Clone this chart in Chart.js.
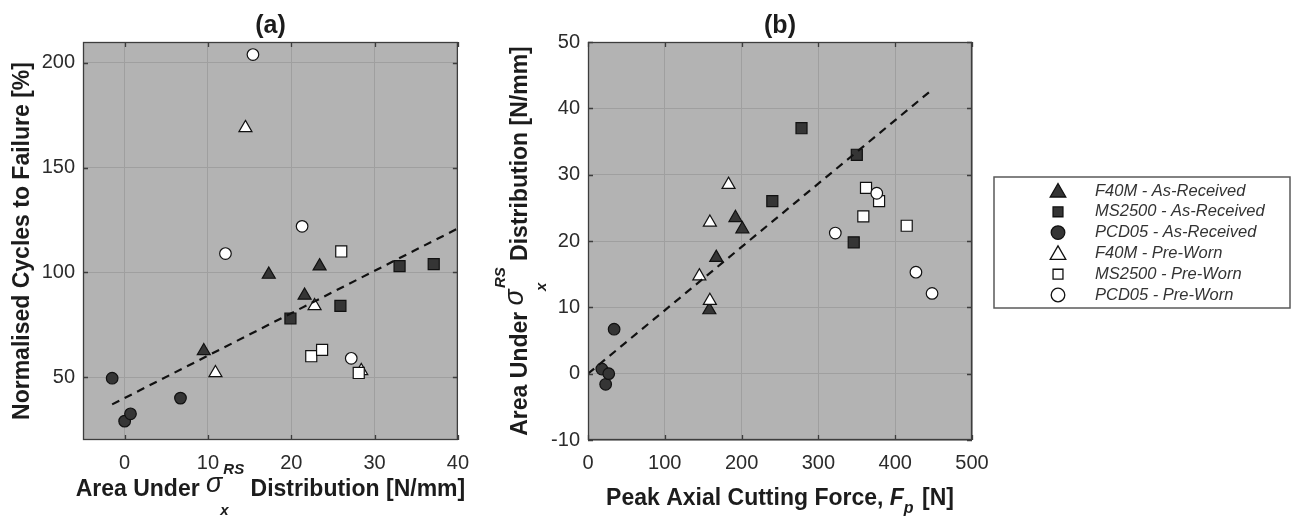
<!DOCTYPE html>
<html>
<head>
<meta charset="utf-8">
<script src="https://cdn.jsdelivr.net/npm/chart.js@4.4.0/dist/chart.umd.min.js"></script>
<style>
  html, body { margin: 0; padding: 0; background: #fff; }
  #wrap { position: relative; width: 1292px; height: 516px; overflow: hidden; background: #fff; }
  #chartA { position: absolute; left: 0; top: 0; }
  #chartB { position: absolute; left: 480px; top: 0; }
</style>
</head>
<body>
<div id="wrap">
  <canvas id="chartA" width="480" height="516"></canvas>
  <canvas id="chartB" width="812" height="516"></canvas>
</div>
<script>
// series labels (legend order)
const seriesLabels = [
  'F40M - As-Received',
  'MS2500 - As-Received',
  'PCD05 - As-Received',
  'F40M - Pre-Worn',
  'MS2500 - Pre-Worn',
  'PCD05 - Pre-Worn'
];

// (a) area under sigma_x^RS [N/mm] vs normalised cycles to failure [%]
const aF40mAR   = [[9.5, 62.5], [17.3, 99], [21.6, 89], [23.4, 103]];
const aMs2500AR = [[19.9, 78], [25.9, 84], [33.0, 103], [37.1, 104]];
const aPcd05AR  = [[-1.5, 49.5], [0, 29], [0.7, 32.5], [6.7, 40]];
const aF40mPW   = [[10.9, 52], [14.5, 169], [22.8, 84], [28.4, 53]];
const aMs2500PW = [[22.4, 60], [23.7, 63], [26.0, 110], [28.1, 52]];
const aPcd05PW  = [[12.1, 109], [15.4, 204], [21.3, 122], [27.2, 59]];
const aTrend    = [[-1.5, 37], [40, 121]];
const aXTicks = [0, 10, 20, 30, 40];
const aYTicks = [50, 100, 150, 200];

// (b) peak axial cutting force [N] vs area under sigma_x^RS [N/mm]
const bF40mAR   = [[158, 9.6], [167, 17.5], [192, 23.5], [201, 21.8]];
const bMs2500AR = [[240, 26], [278, 37], [346, 19.8], [350, 33]];
const bPcd05AR  = [[18, 0.7], [23, -1.6], [27, 0], [34, 6.7]];
const bF40mPW   = [[145, 14.7], [158.7, 11], [158.7, 22.8], [183, 28.5]];
const bMs2500PW = [[358.5, 23.7], [362, 28], [379, 26], [415, 22.3]];
const bPcd05PW  = [[322, 21.2], [376, 27.2], [427, 15.3], [448, 12.1]];
const bTrend    = [[0, 0], [448, 42.8]];
const bXTicks = [0, 100, 200, 300, 400, 500];
const bYTicks = [-10, 0, 10, 20, 30, 40, 50];

const FONT = '"Liberation Sans", Arial, Helvetica, sans-serif';
const PLOT_BG = '#b3b3b3';
const GRID = '#9f9f9f';
const AXIS = '#3d3d3d';
const TICK_TEXT = '#2b2b2b';
const TITLE_TEXT = '#1c1c1c';
const DARK = '#353535';

Chart.defaults.font.family = FONT;

const styles = [
  { pointStyle: 'triangle', radius: 7.5, fill: DARK },
  { pointStyle: 'rect', radius: 7.8, fill: DARK },
  { pointStyle: 'circle', radius: 5.8, fill: DARK },
  { pointStyle: 'triangle', radius: 7.5, fill: '#ffffff' },
  { pointStyle: 'rect', radius: 7.8, fill: '#ffffff' },
  { pointStyle: 'circle', radius: 5.8, fill: '#ffffff' }
];
const legendRadius = { triangle: 9, rect: 7, circle: 6.8 };

const toXY = arr => arr.map(p => ({ x: p[0], y: p[1] }));

function buildDatasets(series, trend) {
  const sets = series.map((pts, i) => ({
    label: seriesLabels[i],
    data: toXY(pts),
    pointStyle: styles[i].pointStyle,
    pointRadius: styles[i].radius,
    pointBackgroundColor: styles[i].fill,
    pointBorderColor: '#111',
    pointBorderWidth: 1.2,
    order: 6 - i
  }));
  sets.push({
    label: 'trend',
    data: toXY(trend),
    showLine: true,
    pointRadius: 0,
    borderColor: '#111',
    borderWidth: 2.2,
    borderDash: [8, 6],
    order: 0
  });
  return sets;
}

// rich text: parts drawn along a baseline, centred at (cx, cy)
function drawRich(ctx, parts, cx, cy, vertical) {
  ctx.save();
  ctx.translate(cx, cy);
  if (vertical) ctx.rotate(-Math.PI / 2);
  ctx.fillStyle = TITLE_TEXT;
  ctx.textBaseline = 'alphabetic';
  ctx.textAlign = 'left';
  const widths = parts.map(p => {
    ctx.font = p.font;
    if (p.sub !== undefined) {
      return Math.max(ctx.measureText(p.sup).width, ctx.measureText(p.sub).width) + (p.gap || 0);
    }
    return ctx.measureText(p.text).width + (p.gap || 0);
  });
  let x = -widths.reduce((a, b) => a + b, 0) / 2;
  parts.forEach((p, i) => {
    ctx.font = p.font;
    if (p.sub !== undefined) {
      if (p.sup) ctx.fillText(p.sup, x, p.supDy);
      ctx.fillText(p.sub, x - (p.subShift || 0), p.subDy);
    } else {
      ctx.fillText(p.text, x, p.dy || 0);
    }
    x += widths[i];
  });
  ctx.restore();
}

const B = '700 23px ' + FONT;
const SIG = 'italic 400 27px ' + FONT;
const SCRIPT = 'italic 700 15px ' + FONT;

const sigmaParts = [
  { text: 'Area Under ', font: B },
  { text: '\u03c3', font: SIG, dy: -4, gap: 1 },
  { sup: 'RS', sub: 'x', font: SCRIPT, supDy: -22, subDy: 19, subShift: 3, gap: 0 },
  { text: ' Distribution [N/mm]', font: B }
];
const cyclesParts = [{ text: 'Normalised Cycles to Failure [%]', font: B }];
const forceParts = [
  { text: 'Peak Axial Cutting Force, ', font: B },
  { text: 'F', font: 'italic 700 23px ' + FONT },
  { sup: '', sub: 'p', font: 'italic 700 16px ' + FONT, subDy: 8, gap: 2 },
  { text: ' [N]', font: B }
];

function framePlugin(xTitle, yTitle) {
  return {
    id: 'frame',
    beforeDraw(chart) {
      const a = chart.chartArea;
      const ctx = chart.ctx;
      ctx.save();
      ctx.fillStyle = PLOT_BG;
      ctx.fillRect(a.left, a.top, a.right - a.left, a.bottom - a.top);
      ctx.restore();
    },
    afterDraw(chart) {
      const a = chart.chartArea;
      const ctx = chart.ctx;
      const xs = chart.scales.x, ys = chart.scales.y;
      ctx.save();
      ctx.strokeStyle = AXIS;
      ctx.lineWidth = 1.3;
      ctx.beginPath();
      xs.ticks.forEach(t => {
        const px = Math.round(xs.getPixelForValue(t.value)) + 0.5;
        ctx.moveTo(px, a.bottom); ctx.lineTo(px, a.bottom - 5);
        ctx.moveTo(px, a.top); ctx.lineTo(px, a.top + 5);
      });
      ys.ticks.forEach(t => {
        const py = Math.round(ys.getPixelForValue(t.value)) + 0.5;
        ctx.moveTo(a.left, py); ctx.lineTo(a.left + 5, py);
        ctx.moveTo(a.right, py); ctx.lineTo(a.right - 5, py);
      });
      ctx.stroke();
      ctx.strokeRect(a.left + 0.5, a.top + 0.5, a.right - a.left - 1, a.bottom - a.top - 1);
      ctx.restore();
      drawRich(ctx, xTitle.parts, (a.left + a.right) / 2, xTitle.baseline, false);
      drawRich(ctx, yTitle.parts, yTitle.baseline, (a.top + a.bottom) / 2, true);
    }
  };
}

const legendPlugin = {
  id: 'boxLegend',
  afterDraw(chart) {
    const ctx = chart.ctx;
    const left = 514, top = 177, right = 810, bottom = 308;
    ctx.save();
    ctx.fillStyle = '#ffffff';
    ctx.fillRect(left, top, right - left, bottom - top);
    ctx.strokeStyle = '#5a5a5a';
    ctx.lineWidth = 1.5;
    ctx.strokeRect(left, top, right - left, bottom - top);
    seriesLabels.forEach((label, i) => {
      const y = 191 + i * 20.8;
      const st = styles[i];
      ctx.fillStyle = st.fill;
      ctx.strokeStyle = '#111';
      ctx.lineWidth = 1.3;
      const r = legendRadius[st.pointStyle];
      Chart.helpers.drawPoint(ctx, { pointStyle: st.pointStyle, radius: r, rotation: 0, borderWidth: 1.3 },
        578, st.pointStyle === 'triangle' ? y + 1.5 : y);
      ctx.fillStyle = '#333333';
      ctx.font = 'italic 400 16.5px ' + FONT;
      ctx.textBaseline = 'middle';
      ctx.textAlign = 'left';
      ctx.fillText(label, 615, y);
    });
    ctx.restore();
  }
};

function makeChart(canvas, cfg) {
  return new Chart(canvas, {
    type: 'scatter',
    data: { datasets: buildDatasets(cfg.series, cfg.trend) },
    options: {
      responsive: false,
      maintainAspectRatio: false,
      animation: false,
      devicePixelRatio: 1,
      layout: { padding: { top: 0, left: 0, bottom: 0, right: cfg.padRight } },
      plugins: {
        legend: { display: false },
        tooltip: { enabled: false },
        title: {
          display: true,
          text: cfg.title,
          fullSize: false,
          color: TITLE_TEXT,
          font: { size: 25, weight: '700' },
          padding: { top: 11, bottom: 1 }
        }
      },
      scales: {
        x: {
          type: 'linear',
          min: cfg.xMin, max: cfg.xMax,
          afterBuildTicks: s => { s.ticks = cfg.xTicks.map(v => ({ value: v })); },
          afterFit: s => { s.height = 76; },
          grid: { color: GRID, lineWidth: 1, drawTicks: false },
          border: { display: false },
          ticks: { color: TICK_TEXT, font: { size: 20 }, padding: 11, maxRotation: 0, autoSkip: false }
        },
        y: {
          type: 'linear',
          min: cfg.yMin, max: cfg.yMax,
          afterBuildTicks: s => { s.ticks = cfg.yTicks.map(v => ({ value: v })); },
          afterFit: s => { s.width = cfg.yWidth; },
          grid: { color: GRID, lineWidth: 1, drawTicks: false },
          border: { display: false },
          ticks: { color: TICK_TEXT, font: { size: 20 }, padding: 8, autoSkip: false }
        }
      }
    },
    plugins: cfg.plugins
  });
}

makeChart(document.getElementById('chartA'), {
  series: [aF40mAR, aMs2500AR, aPcd05AR, aF40mPW, aMs2500PW, aPcd05PW],
  trend: aTrend,
  title: '(a)',
  xMin: -5, xMax: 40, yMin: 20, yMax: 210,
  xTicks: aXTicks, yTicks: aYTicks,
  yWidth: 83, padRight: 14,
  plugins: [framePlugin({ parts: sigmaParts, baseline: 496 }, { parts: cyclesParts, baseline: 29 })]
});

makeChart(document.getElementById('chartB'), {
  series: [bF40mAR, bMs2500AR, bPcd05AR, bF40mPW, bMs2500PW, bPcd05PW],
  trend: bTrend,
  title: '(b)',
  xMin: 0, xMax: 500, yMin: -10, yMax: 50,
  xTicks: bXTicks, yTicks: bYTicks,
  yWidth: 108, padRight: 320,
  plugins: [framePlugin({ parts: forceParts, baseline: 505 }, { parts: sigmaParts, baseline: 47 }), legendPlugin]
});
</script>
</body>
</html>
